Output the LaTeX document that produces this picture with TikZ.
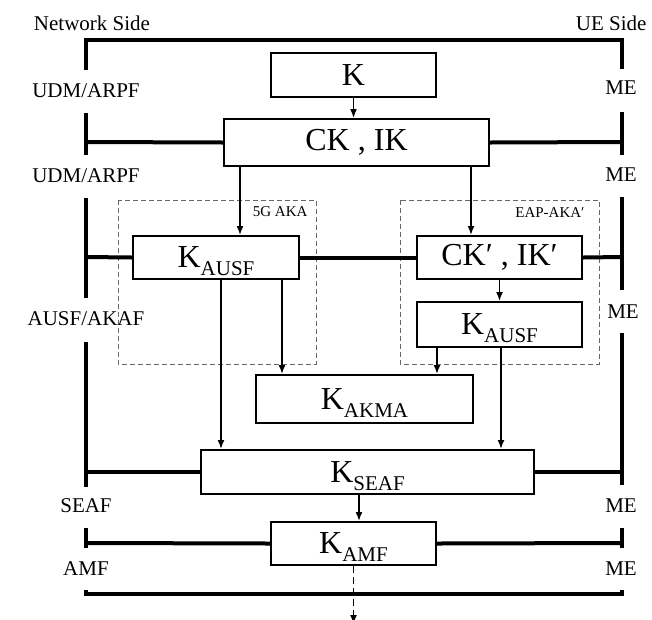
\documentclass[tikz,border=0pt]{standalone}
\usepackage{fontspec}
\setmainfont{Liberation Serif}
\usetikzlibrary{arrows.meta}
\tikzset{
  keybox/.style={draw, line width=2pt, inner sep=0pt, align=center, font=\fontsize{32pt}{34pt}\selectfont},
  sidebar/.style={line width=4pt},
  keyarrow/.style={-{Latex[length=9pt,width=7pt]}, line width=1.6pt},
  dashedarrow/.style={keyarrow, dash pattern=on 7pt off 4pt},
  methodbox/.style={draw, gray!80!black, line width=0.8pt, dash pattern=on 5pt off 3pt},
  methodlabel/.style={anchor=base east, font=\fontsize{15pt}{15pt}\selectfont},
  sidelabel/.style={anchor=base, font=\fontsize{21pt}{21pt}\selectfont}
}
\newcommand{\ksub}[1]{K\raisebox{-0.25em}[0pt][0pt]{\fontsize{21pt}{21pt}\selectfont #1}}

\begin{document}
\begin{tikzpicture}[x=1pt,y=-1pt]
  \useasboundingbox (0,0) rectangle (652,619);
  % method groups
  \draw[methodbox] (118,200) rectangle (316,364);
  \draw[methodbox] (400,200) rectangle (599,364);
  \node[methodlabel] (fgaka) at (311,216) {5G AKA};
  \node[methodlabel] (eapaka) at (588,217) {EAP-AKA′};
  % keys
  \node[keybox, minimum width=165pt, minimum height=44pt] (k) at (353.5,75) {K};
  \node[keybox, minimum width=265pt, minimum height=47pt] (ckik) at (356.5,142.5) {CK , IK};
  \node[keybox, minimum width=166pt, minimum height=43pt] (kausfL) at (216,257.5) {\ksub{AUSF}};
  \node[keybox, minimum width=165pt, minimum height=43pt] (ckikp) at (499.5,257.5) {CK′ , IK′};
  \node[keybox, minimum width=165pt, minimum height=45pt] (kausfR) at (499.5,324.5) {\ksub{AUSF}};
  \node[keybox, minimum width=217pt, minimum height=48pt] (kakma) at (364.5,399) {\ksub{AKMA}};
  \node[keybox, minimum width=333pt, minimum height=44pt] (kseaf) at (367.5,472) {\ksub{SEAF}};
  \node[keybox, minimum width=165pt, minimum height=43pt] (kamf) at (353.5,543.5) {\ksub{AMF}};
  % side labels
  \node[sidelabel] (netside) at (92,30) {Network Side};
  \node[sidelabel, anchor=base east] (ueside) at (650,30) {UE Side};
  \node[sidelabel] (udmA) at (86,97) {UDM/ARPF};
  \node[sidelabel] (udmB) at (86,182) {UDM/ARPF};
  \node[sidelabel] (ausf) at (86,325) {AUSF/AKAF};
  \node[sidelabel] (seaf) at (86,512) {SEAF};
  \node[sidelabel] (amf) at (86,575) {AMF};
  \foreach \y/\x in {94/621,181/621,318/623,512/621,575/621} {\node[sidelabel] (me\y) at (\x,\y) {ME};}
  % domain bars
  \draw[sidebar] (86,70) -- (86,39.5) -- (622,39.5) -- (622,69);
  \draw[sidebar] (86,113) -- (86,155);
  \draw[sidebar] (622,112) -- (622,155);
  \draw[sidebar] (86,142) -- (ckik.west);
  \draw[sidebar] (ckik.east) -- (622,142);
  \draw[sidebar] (86,198) -- (86,298);
  \draw[sidebar] (622,197) -- (622,290);
  \draw[sidebar] (86,257) -- (kausfL.west);
  \draw[sidebar] (kausfL.east) -- (ckikp.west);
  \draw[sidebar] (ckikp.east) -- (622,257);
  \draw[sidebar] (86,342) -- (86,487);
  \draw[sidebar] (622,333) -- (622,485);
  \draw[sidebar] (86,472) -- (kseaf.west);
  \draw[sidebar] (kseaf.east) -- (622,472);
  \draw[sidebar] (86,528) -- (86,548);
  \draw[sidebar] (622,528) -- (622,548);
  \draw[sidebar] (86,543) -- (kamf.west);
  \draw[sidebar] (kamf.east) -- (622,543);
  \draw[sidebar] (86,590) -- (86,594) -- (622,594) -- (622,590);
  % derivations
  \draw[keyarrow] (k.south) -- (k.south |- ckik.north);
  \draw[keyarrow] ([xshift=24pt]kausfL.north |- ckik.south) -- ([xshift=24pt]kausfL.north);
  \draw[keyarrow] ([xshift=-28.5pt]ckikp.north |- ckik.south) -- ([xshift=-28.5pt]ckikp.north);
  \draw[keyarrow] (ckikp.south) -- (kausfR.north);
  \draw[keyarrow] ([xshift=66pt]kausfL.south) -- ([xshift=66pt]kausfL.south |- kakma.north);
  \draw[keyarrow] ([xshift=-62.5pt]kausfR.south) -- ([xshift=-62.5pt]kausfR.south |- kakma.north);
  \draw[keyarrow] ([xshift=5pt]kausfL.south) -- ([xshift=5pt]kausfL.south |- kseaf.north);
  \draw[keyarrow] ([xshift=1.5pt]kausfR.south) -- ([xshift=1.5pt]kausfR.south |- kseaf.north);
  \draw[keyarrow] ([xshift=5.5pt]kamf.north |- kseaf.south) -- ([xshift=5.5pt]kamf.north);
  \draw[dashedarrow] (kamf.south) -- ++(0,58);
\end{tikzpicture}
\end{document}
